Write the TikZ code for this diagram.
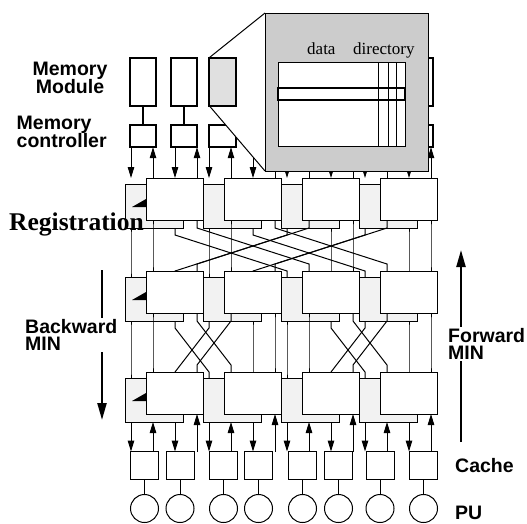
\documentclass[tikz,border=0pt]{standalone}
\usepackage{fontspec}
\setmainfont{Liberation Serif}
\setsansfont{Liberation Sans}
\usetikzlibrary{arrows.meta, calc}
\definecolor{backgray}{HTML}{F2F2F2}
\definecolor{insetgray}{HTML}{CCCCCC}
\definecolor{modgray}{HTML}{E0E0E0}
\pgfdeclarelayer{backlayer}
\pgfdeclarelayer{wirelayer}
\pgfdeclarelayer{memlayer}
\pgfdeclarelayer{projlayer}
\pgfsetlayers{backlayer,wirelayer,memlayer,projlayer,main}
\newcommand{\lblfont}{\sffamily\bfseries\fontsize{19.5}{17.5}\selectfont\lineskiplimit=-30pt\relax}

\begin{document}
\begin{tikzpicture}[x=1pt, y=-1pt,
    frontsw/.style={draw, fill=white, line width=1pt, minimum width=57pt, minimum height=42pt, inner sep=0pt, outer sep=0pt, anchor=north west},
    backsw/.style={draw, fill=backgray, line width=1pt, minimum width=58pt, minimum height=44pt, inner sep=0pt, outer sep=0pt, anchor=north west},
    memmod/.style={draw, fill=#1, line width=2.4pt, minimum width=26.5pt, minimum height=48pt, inner sep=0pt, outer sep=0pt},
    memmod/.default=white,
    memctrl/.style={draw, fill=white, line width=2.4pt, minimum width=26.5pt, minimum height=22pt, inner sep=0pt, outer sep=0pt},
    cache/.style={draw, fill=white, line width=1pt, minimum size=28pt, inner sep=0pt, outer sep=0pt},
    pu/.style={draw, circle, line width=1pt, minimum size=28pt, inner sep=0pt, outer sep=0pt},
    wire/.style={line width=1pt},
    warrow/.style={wire, -{Triangle[length=11pt, width=6.5pt]}},
    bigarrow/.style={line width=2.2pt, -{Triangle[length=17pt, width=9pt]}},
    lbl/.style={font=\lblfont, inner sep=0pt}
]
\useasboundingbox (0,0) rectangle (527,523);

% switches of the three stages
\begin{pgfonlayer}{backlayer}
\foreach \r/\t in {1/178, 2/271, 3/372}
  \foreach \k in {0,...,3}
    \node[backsw] (b\r\k) at ({125+78*\k}, \t+6) {};
\end{pgfonlayer}
\foreach \r in {1,2,3}
  \fill ($(b\r0.north west)+(7,23)$) -- ++(14,-8) -- ++(0,8) -- cycle;
\foreach \r/\t in {1/178, 2/271, 3/372}
  \foreach \k in {0,...,3}
    \node[frontsw] (f\r\k) at ({146+78*\k}, \t) {};

% memory side
\begin{pgfonlayer}{memlayer}
\foreach \i/\cx in {1/143, 2/184, 3/222.5, 4/262, 5/300.5, 6/340, 7/379, 8/419.5}
  \node[memctrl] (mc\i) at (\cx, 136.2) {};
\foreach \i in {1,2,4,5,6,7,8} {
  \node[memmod] (mm\i) at (mc\i |- 0,81.7) {};
  \draw[line width=2pt] (mm\i) -- (mc\i);
}
\end{pgfonlayer}
\node[memmod=modgray] (mm3) at (mc3 |- 0,81.7) {};
\node[draw, fill=insetgray, line width=1pt, minimum width=163pt, minimum height=158pt, inner sep=0pt, outer sep=0pt, anchor=north west] (inset) at (265,13) {};
\begin{pgfonlayer}{projlayer}
\fill[white] (mm3.north west) -- (inset.north west) -- (inset.south west) -- (mm3.south west) -- cycle;
\draw[wire] (mm3.north west) -- (inset.north west);
\draw[wire] (mm3.south west) -- (inset.south west);
\end{pgfonlayer}
\node[draw, fill=white, line width=1pt, minimum width=127pt, minimum height=84pt, inner sep=0pt, outer sep=0pt, anchor=north west] (dirtable) at (278,62) {};
\foreach \cx in {378,388,396}
  \draw[wire] (\cx,0 |- dirtable.north) -- (\cx,0 |- dirtable.south);
\draw[line width=2pt] (dirtable.west |- 0,88) rectangle (dirtable.east |- 0,100);
\node[font=\fontsize{17}{17}\selectfont, anchor=base west, inner sep=0pt] (datalbl) at (307,54.5) {data};
\node[font=\fontsize{17}{17}\selectfont, anchor=base west, inner sep=0pt] (dirlbl) at (353,54.5) {directory};

% processor side
\foreach \i/\cx in {1/144.5, 2/180, 3/223.5, 4/258.5, 5/302.5, 6/338.5, 7/380, 8/423.5} {
  \node[cache] (cc\i) at (\cx, 465.5) {};
  \node[pu] (pu\i) at (\cx, 508.5) {};
  \draw[wire] (cc\i) -- (pu\i);
}

% wires
\begin{pgfonlayer}{wirelayer}
\foreach \k in {0,...,3} {
  \pgfmathsetmacro{\xb}{131+78*\k}
  \pgfmathsetmacro{\xf}{153+78*\k}
  \pgfmathtruncatemacro{\ma}{2*\k+1}
  \pgfmathtruncatemacro{\mb}{2*\k+2}
  \draw[warrow] (\xb,0 |- mc\ma.south) -- (\xb,0 |- f1\k.north);
  \draw[warrow] (\xf,0 |- f1\k.north) -- (\xf,0 |- mc\ma.south);
  \draw[warrow] (\xb+44,0 |- mc\mb.south) -- (\xb+44,0 |- f1\k.north);
  \draw[warrow] (\xf+44,0 |- f1\k.north) -- (\xf+44,0 |- mc\mb.south);
  \draw[warrow] (\xb,0 |- b3\k.south) -- (\xb,0 |- cc\ma.north);
  \draw[warrow] (\xf,0 |- cc\ma.north) -- (\xf,0 |- b3\k.south);
  \draw[warrow] (\xb+44,0 |- b3\k.south) -- (\xb+44,0 |- cc\mb.north);
  \draw[warrow] (\xf+44,0 |- cc\mb.north) -- (\xf+44,0 |- f3\k.south);
}
\foreach \u/\pu/\l/\pl in {0/0/0/0, 1/0/1/0, 2/1/2/1, 3/1/3/1, 0/1/2/0, 1/1/3/0, 2/0/0/1, 3/0/1/1} {
  \pgfmathsetmacro{\xbu}{131+78*\u+44*\pu}
  \pgfmathsetmacro{\xbl}{131+78*\l+44*\pl}
  \pgfmathsetmacro{\xfu}{153+78*\u+44*\pu}
  \pgfmathsetmacro{\xfl}{153+78*\l+44*\pl}
  \draw[wire] (\xbu,0 |- b1\u.south) -- ++(0,7) -- (\xbl,0 |- f2\l.north) -- (\xbl,0 |- b2\l.north);
  \draw[wire] (\xfu,0 |- f1\u.south) -- (\xfu,0 |- b1\u.south) -- ($(\xfl,0 |- f2\l.north)+(0,-7)$) -- (\xfl,0 |- f2\l.north);
}
\foreach \u/\pu/\l/\pl in {0/0/0/0, 1/1/1/1, 2/0/2/0, 3/1/3/1, 0/1/1/0, 1/0/0/1, 2/1/3/0, 3/0/2/1} {
  \pgfmathsetmacro{\xbu}{131+78*\u+44*\pu}
  \pgfmathsetmacro{\xbl}{131+78*\l+44*\pl}
  \pgfmathsetmacro{\xfu}{153+78*\u+44*\pu}
  \pgfmathsetmacro{\xfl}{153+78*\l+44*\pl}
  \draw[wire] (\xbu,0 |- b2\u.south) -- ++(0,7) -- (\xbl,0 |- f3\l.north) -- (\xbl,0 |- b3\l.north);
  \draw[wire] (\xfu,0 |- f2\u.south) -- (\xfu,0 |- b2\u.south) -- ($(\xfl,0 |- f3\l.north)+(0,-7)$) -- (\xfl,0 |- f3\l.north);
}
\end{pgfonlayer}

% labels
\node[lbl, align=center, anchor=north] (modlbl) at (70,62) {Memory\\Module};
\node[lbl, align=left, anchor=north west] (ctrllbl) at (16.5,116) {Memory\\controller};
\node[font=\bfseries\fontsize{25.5}{25.5}\selectfont, anchor=base west, inner sep=0pt] (reglbl) at (9,230) {Registration};
\coordinate (bwtop) at (102,270);
\coordinate (bwbot) at (102,420);
\draw[bigarrow] (bwtop) -- (bwbot);
\node[lbl, align=left, anchor=north west, fill=white, inner sep=1pt] (bwlbl) at (24,318) {Backward\\MIN};
\coordinate (fwbot) at (461,442);
\coordinate (fwtop) at (461,250);
\draw[bigarrow] (fwbot) -- (fwtop);
\node[lbl, align=left, anchor=north west, fill=white, inner sep=1.5pt] (fwlbl) at (446.5,326.5) {Forward\\MIN};
\node[lbl, anchor=base west] (cachelbl) at (455,472) {Cache};
\node[lbl, anchor=base west] (pulbl) at (455,519) {PU};
\end{tikzpicture}
\end{document}
